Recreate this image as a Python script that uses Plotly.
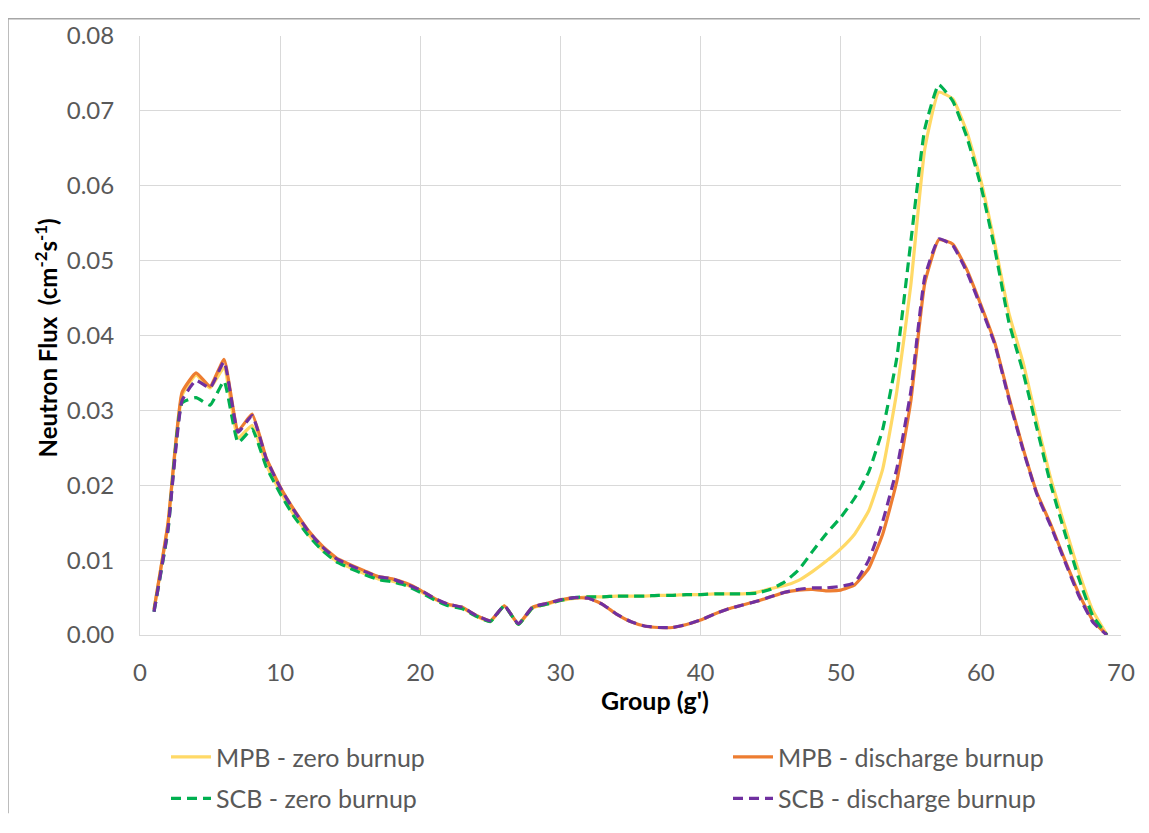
import plotly.graph_objects as go

groups = list(range(1, 70))

mpb_zero = [0.0034, 0.0148, 0.0320, 0.0347, 0.0330, 0.0357, 0.0263, 0.0280, 0.0228, 0.0192,
            0.0160, 0.0135, 0.0114, 0.0099, 0.0090, 0.0082, 0.0075, 0.0072, 0.0067, 0.0058,
            0.0048, 0.0040, 0.0036, 0.0025, 0.0018, 0.0039, 0.0014, 0.0036, 0.0041, 0.0046,
            0.0049, 0.0051, 0.0051, 0.0052, 0.0052, 0.0052, 0.0053, 0.0053, 0.0054, 0.0054,
            0.0055, 0.0055, 0.0055, 0.0057, 0.0062, 0.0066, 0.0073, 0.0085, 0.0099, 0.0115,
            0.0135, 0.0166, 0.0222, 0.0325, 0.0467, 0.0649, 0.0725, 0.0716, 0.0672, 0.0607,
            0.0522, 0.0430, 0.0365, 0.0285, 0.0208, 0.0145, 0.0084, 0.0032, 0.0]

mpb_discharge = [0.0034, 0.0150, 0.0324, 0.0350, 0.0332, 0.0368, 0.0273, 0.0295, 0.0237, 0.0198,
                 0.0167, 0.0140, 0.0119, 0.0103, 0.0094, 0.0086, 0.0078, 0.0075, 0.0069, 0.0060,
                 0.0049, 0.0041, 0.0037, 0.0026, 0.0019, 0.0039, 0.0015, 0.0037, 0.0042, 0.0047,
                 0.0050, 0.0049, 0.0041, 0.0028, 0.0018, 0.0012, 0.0010, 0.0010, 0.0014, 0.0020,
                 0.0028, 0.0035, 0.0040, 0.0045, 0.0051, 0.0057, 0.0060, 0.0061, 0.0059, 0.0060,
                 0.0067, 0.0089, 0.0135, 0.0205, 0.0312, 0.0470, 0.0528, 0.0522, 0.0488, 0.0441,
                 0.0390, 0.0318, 0.0250, 0.0190, 0.0147, 0.0100, 0.0055, 0.0019, 0.0]

scb_zero = [0.0031, 0.0140, 0.0310, 0.0317, 0.0307, 0.0339, 0.0257, 0.0275, 0.0225, 0.0189,
            0.0158, 0.0133, 0.0113, 0.0098, 0.0089, 0.0081, 0.0074, 0.0071, 0.0066, 0.0057,
            0.0047, 0.0039, 0.0035, 0.0025, 0.0018, 0.0039, 0.0014, 0.0036, 0.0041, 0.0046,
            0.0050, 0.0051, 0.0051, 0.0052, 0.0052, 0.0052, 0.0053, 0.0053, 0.0054, 0.0054,
            0.0055, 0.0055, 0.0055, 0.0056, 0.0061, 0.0071, 0.0087, 0.0112, 0.0136, 0.0157,
            0.0183, 0.0218, 0.0275, 0.0370, 0.0525, 0.0676, 0.0735, 0.0713, 0.0665, 0.0600,
            0.0515, 0.0418, 0.0352, 0.0276, 0.0200, 0.0136, 0.0075, 0.0025, 0.0]

scb_discharge = [0.0031, 0.0142, 0.0313, 0.0340, 0.0330, 0.0365, 0.0271, 0.0293, 0.0236, 0.0197,
                 0.0166, 0.0139, 0.0118, 0.0102, 0.0093, 0.0085, 0.0078, 0.0075, 0.0068, 0.0060,
                 0.0049, 0.0041, 0.0037, 0.0026, 0.0019, 0.0039, 0.0015, 0.0037, 0.0042, 0.0047,
                 0.0050, 0.0049, 0.0041, 0.0028, 0.0018, 0.0012, 0.0010, 0.0010, 0.0014, 0.0020,
                 0.0028, 0.0035, 0.0040, 0.0045, 0.0051, 0.0057, 0.0061, 0.0063, 0.0063, 0.0065,
                 0.0070, 0.0100, 0.0152, 0.0222, 0.0325, 0.0478, 0.0529, 0.0520, 0.0485, 0.0438,
                 0.0388, 0.0315, 0.0248, 0.0188, 0.0145, 0.0098, 0.0052, 0.0017, 0.0]

series_names = ["MPB - zero burnup", "MPB - discharge burnup",
                "SCB - zero burnup", "SCB - discharge burnup"]

x_ticks = [0, 10, 20, 30, 40, 50, 60, 70]
y_ticks = [0.00, 0.01, 0.02, 0.03, 0.04, 0.05, 0.06, 0.07, 0.08]

FONT = "Lato"
W, H = 1141, 825
L, T = 132, 18
PLOT_R, PLOT_B = 1113, 640
R, B = W - PLOT_R, H - PLOT_B
PW, PH = PLOT_R - L, PLOT_B - T

fig = go.Figure()

specs = [
    (mpb_zero, series_names[0], "#FFD966", "solid", "legend", "a"),
    (mpb_discharge, series_names[1], "#ED7D31", "solid", "legend2", "c"),
    (scb_zero, series_names[2], "#00B050", "10px,6px", "legend", "b"),
    (scb_discharge, series_names[3], "#7030A0", "10px,6px", "legend2", "d"),
]
for vals, name, color, dash, leg, grp in specs:
    fig.add_trace(go.Scatter(
        x=groups, y=vals, name=name, mode="lines",
        line=dict(color=color, width=3.2, dash=dash, shape="spline", smoothing=0.4),
        legend=leg, legendgroup=grp,
    ))

def px_x(p):
    return (p - L) / PW

def px_y(p):
    return (PLOT_B - p) / PH

legend_common = dict(
    orientation="v", bgcolor="rgba(0,0,0,0)", borderwidth=0,
    font=dict(family=FONT, size=25, color="#595959"),
    itemwidth=40, tracegroupgap=6, yanchor="top", xanchor="left",
    traceorder="grouped",
)

fig.update_layout(
    width=W, height=H,
    margin=dict(l=L, r=R, t=T, b=B),
    paper_bgcolor="white", plot_bgcolor="white",
    font=dict(family=FONT, size=24, color="#595959"),
    showlegend=True,
    legend=dict(x=px_x(158), y=px_y(743), **legend_common),
    legend2=dict(x=px_x(720), y=px_y(743), **legend_common),
    xaxis=dict(
        range=[0, 70], tickvals=x_ticks, ticktext=[str(v) for v in x_ticks],
        showgrid=True, gridcolor="#D9D9D9", gridwidth=1,
        zeroline=False, showline=True, linecolor="#D9D9D9", linewidth=1,
        ticks="", ticklabelstandoff=16,
        tickfont=dict(family=FONT, size=24, color="#595959"),
    ),
    yaxis=dict(
        range=[0, 0.08], tickvals=y_ticks, ticktext=[f"{v:.2f}" for v in y_ticks],
        showgrid=True, gridcolor="#D9D9D9", gridwidth=1,
        zeroline=False, showline=True, linecolor="#D9D9D9", linewidth=1,
        ticks="", ticklabelstandoff=20,
        tickfont=dict(family=FONT, size=24, color="#595959"),
    ),
    annotations=[
        dict(text="<b>Group (g')</b>", xref="paper", yref="paper",
             x=px_x(647), y=px_y(707), xanchor="center", yanchor="middle",
             showarrow=False, font=dict(family=FONT, size=25, color="black")),
        dict(text="<b>Neutron Flux  (cm<sup>-2</sup>s<sup>-1</sup>)</b>",
             xref="paper", yref="paper", textangle=-90,
             x=px_x(38), y=px_y(332), xanchor="center", yanchor="middle",
             showarrow=False, font=dict(family=FONT, size=24, color="black")),
    ],
    shapes=[
        dict(type="line", xref="paper", yref="paper",
             x0=px_x(0), x1=px_x(1132), y0=px_y(0), y1=px_y(0),
             line=dict(color="#A6A6A6", width=1.5)),
        dict(type="line", xref="paper", yref="paper",
             x0=px_x(0), x1=px_x(0), y0=px_y(0), y1=px_y(H),
             line=dict(color="#A6A6A6", width=1.5)),
    ],
)

fig.write_html("out.html")
